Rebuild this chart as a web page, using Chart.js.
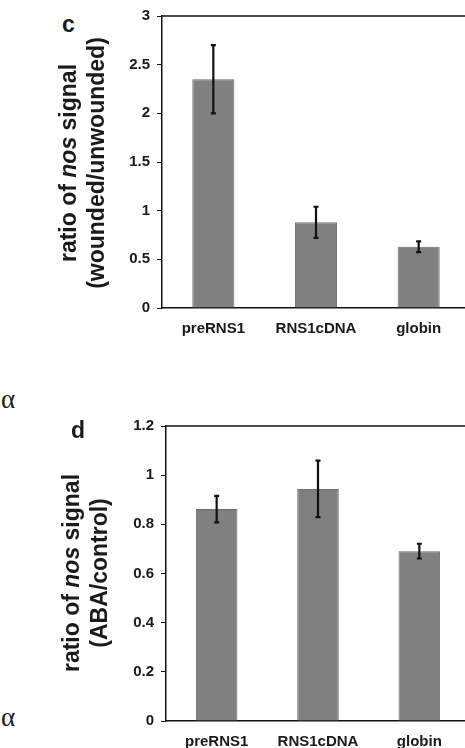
<!DOCTYPE html>
<html>
<head>
<meta charset="utf-8">
<script src="https://cdn.jsdelivr.net/npm/chart.js@4.4.1/dist/chart.umd.min.js"></script>
<style>
  html, body { margin: 0; padding: 0; }
  body { width: 465px; height: 748px; overflow: hidden; position: relative; background: #fff;
         font-family: "Liberation Sans", Arial, sans-serif; color: #1a1a1a; }
  .box { position: absolute; }
  .ytitle { position: absolute; width: 300px; height: 56px; line-height: 28px; font-size: 23px;
            font-weight: bold; text-align: center; white-space: nowrap; transform: rotate(-90deg); }
  .panel { position: absolute; font-size: 23px; font-weight: bold; line-height: 23px; }
  .alpha { position: absolute; left: 1px; font-family: "Liberation Serif", "DejaVu Serif", serif;
           font-size: 27px; line-height: 27px; }
</style>
</head>
<body>
<div class="box" style="left:100px; top:0px;"><canvas id="woundChart" width="375" height="345"></canvas></div>
<div class="box" style="left:100px; top:400px;"><canvas id="abaChart" width="375" height="360"></canvas></div>

<div class="panel" style="left:62px; top:13px;">c</div>
<div class="ytitle" style="left:-68px; top:135px;">ratio of <i>nos</i> signal<br>(wounded/unwounded)</div>

<div class="panel" style="left:71px; top:419px;">d</div>
<div class="ytitle" style="left:-65px; top:545px;">ratio of <i>nos</i> signal<br>(ABA/control)</div>

<div class="alpha" style="top:386px;">α</div>
<div class="alpha" style="top:704px;">α</div>

<script>
// categories shared by both panels
const categories = ["preRNS1", "RNS1cDNA", "globin"];

// panel c: wounded / unwounded
const woundRatio = [2.35, 0.88, 0.63];
const woundErr = [0.35, 0.16, 0.055];

// panel d: ABA / control
const abaRatio = [0.862, 0.944, 0.691];
const abaErr = [0.054, 0.115, 0.03];

const tickFont = { family: "'Liberation Sans', Arial, sans-serif", weight: "bold", size: 15 };

// error bars drawn through the y scale
const errorBars = {
  id: "errorBars",
  afterDatasetsDraw(chart, args, opts) {
    const ctx = chart.ctx;
    const yScale = chart.scales.y;
    const meta = chart.getDatasetMeta(0);
    const values = chart.data.datasets[0].data;
    ctx.save();
    ctx.strokeStyle = "#111";
    ctx.lineWidth = 2.2;
    meta.data.forEach((bar, i) => {
      const top = yScale.getPixelForValue(values[i] + opts.errors[i]);
      const bottom = yScale.getPixelForValue(values[i] - opts.errors[i]);
      ctx.beginPath();
      ctx.moveTo(bar.x, top);
      ctx.lineTo(bar.x, bottom);
      ctx.moveTo(bar.x - 2.5, top);
      ctx.lineTo(bar.x + 2.5, top);
      ctx.moveTo(bar.x - 2.5, bottom);
      ctx.lineTo(bar.x + 2.5, bottom);
      ctx.stroke();
    });
    ctx.restore();
  }
};

// top line of the frame
const topFrame = {
  id: "topFrame",
  afterDraw(chart) {
    const a = chart.chartArea;
    const ctx = chart.ctx;
    ctx.save();
    ctx.strokeStyle = "#111";
    ctx.lineWidth = 1.5;
    ctx.beginPath();
    ctx.moveTo(a.left, a.top);
    ctx.lineTo(a.right + 10, a.top);
    ctx.stroke();
    ctx.restore();
  }
};

function renderPanel(canvasId, values, errors, yMax, yStep, padTop, yWidth, xHeight) {
  new Chart(document.getElementById(canvasId), {
    type: "bar",
    data: {
      labels: categories,
      datasets: [{
        data: values,
        backgroundColor: "#808080",
        borderColor: "#6e6e6e",
        borderWidth: 1,
        barPercentage: 0.41,
        categoryPercentage: 1
      }]
    },
    options: {
      responsive: false,
      animation: false,
      layout: { padding: { top: padTop, right: 5, left: 0, bottom: 0 } },
      scales: {
        x: {
          grid: { display: false, drawTicks: false },
          border: { display: true, color: "#111", width: 1.5 },
          ticks: { color: "#1a1a1a", font: tickFont, padding: 12, maxRotation: 0 },
          afterFit: (scale) => { scale.height = xHeight; }
        },
        y: {
          min: 0,
          max: yMax,
          grid: { display: true, drawOnChartArea: false, drawTicks: true, tickLength: 5, color: "#111", lineWidth: 1 },
          border: { display: true, color: "#111", width: 1.5 },
          ticks: {
            stepSize: yStep,
            color: "#1a1a1a",
            font: tickFont,
            padding: 7,
            callback: (v) => String(+v.toFixed(2))
          },
          afterFit: (scale) => { scale.width = yWidth; }
        }
      },
      plugins: {
        legend: { display: false },
        tooltip: { enabled: false },
        errorBars: { errors: errors }
      }
    },
    plugins: [errorBars, topFrame]
  });
}

renderPanel("woundChart", woundRatio, woundErr, 3, 0.5, 16, 62, 37);
renderPanel("abaChart", abaRatio, abaErr, 1.2, 0.2, 26, 66, 39);
</script>
</body>
</html>
